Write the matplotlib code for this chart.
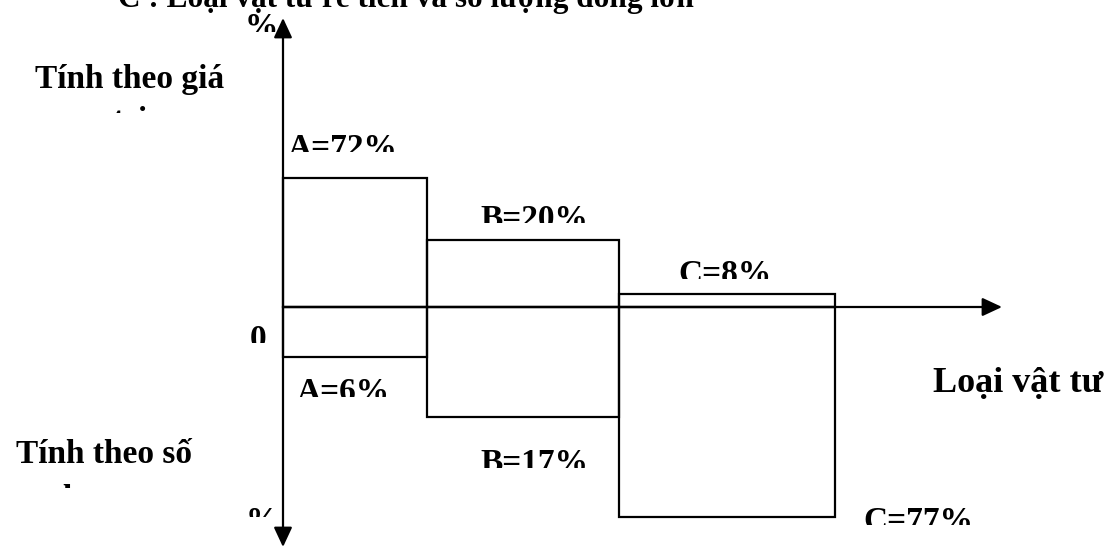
import matplotlib
matplotlib.use("Agg")
import matplotlib.pyplot as plt
from matplotlib.transforms import Bbox, TransformedBbox

# ABC classification: share by value (upper half) and by quantity (lower half)
categories = ['A', 'B', 'C']
value_pct = [72, 20, 8]
quantity_pct = [6, 17, 77]
# drawn (schematic) heights of the boxes
top_heights = [129, 67, 13]
bottom_heights = [50, 110, 210]
box_widths = [144, 192, 216]

title = 'C : Loại vật tư rẻ tiền và số lượng đông lớn'
upper_label = ['Tính theo giá', 'trị']
lower_label = ['Tính theo số', 'lượng']
x_label = 'Loại vật tư'

W, H = 1104, 548
Y0 = 307   # pixel row of the horizontal axis
X0 = 283   # pixel column of the vertical axis

fig = plt.figure(figsize=(W / 100, H / 100), dpi=100)
ax = fig.add_axes([0, 0, 1, 1])
ax.set_xlim(0, W)
ax.set_ylim(Y0 - H, Y0)
ax.axis('off')


def py(p):
    # picture row -> data y
    return Y0 - p


lefts = [X0]
for w in box_widths[:-1]:
    lefts.append(lefts[-1] + w)

ax.bar(lefts, top_heights, width=box_widths, align='edge', fill=False,
       edgecolor='black', linewidth=1.6)
ax.bar(lefts, [-h for h in bottom_heights], width=box_widths, align='edge',
       fill=False, edgecolor='black', linewidth=1.6)

arrow = dict(arrowstyle='-|>,head_length=0.6,head_width=0.28', color='black',
             lw=1.6, shrinkA=0, shrinkB=0, mutation_scale=20)
ax.annotate('', xy=(X0, py(18)), xytext=(X0, 0), arrowprops=arrow)
ax.annotate('', xy=(X0, py(547)), xytext=(X0, 0), arrowprops=arrow)
ax.annotate('', xy=(1002, 0), xytext=(X0, 0), arrowprops=arrow)

font = dict(family='Liberation Serif', weight='bold')


def put(s, x, base, clip=None, ha='left', size=24):
    t = ax.text(x, py(base), s, ha=ha, va='baseline', fontsize=size, **font)
    if clip is not None:
        bb = Bbox.from_extents(0, py(clip), W, Y0 + 50)
        t.set_clip_box(TransformedBbox(bb, ax.transData))
        t.set_clip_on(True)
    else:
        t.set_clip_on(False)
    return t


put(title, 118, 7, size=22.5)
put(upper_label[0], 130, 88, ha='center')
put(upper_label[1], 130, 130, clip=113, ha='center')
put(lower_label[0], 104, 463, ha='center')
put(lower_label[1], 104, 508, clip=488, ha='center')
put(x_label, 933, 392, size=26)
put('0', 250, 348, clip=343)
put('%', 245, 36, clip=32)
put('%', 246, 530, clip=517)

top_pos = [(288, 157, 152), (480, 228, 223), (678, 283, 279)]
bot_pos = [(297, 401, 397), (480, 472, 468), (863, 530, 525)]
for c, v, (x, b, cl) in zip(categories, value_pct, top_pos):
    put(f'{c}={v}%', x, b, clip=cl)
for c, q, (x, b, cl) in zip(categories, quantity_pct, bot_pos):
    put(f'{c}={q}%', x, b, clip=cl)

fig.savefig('out.png', dpi=100)
